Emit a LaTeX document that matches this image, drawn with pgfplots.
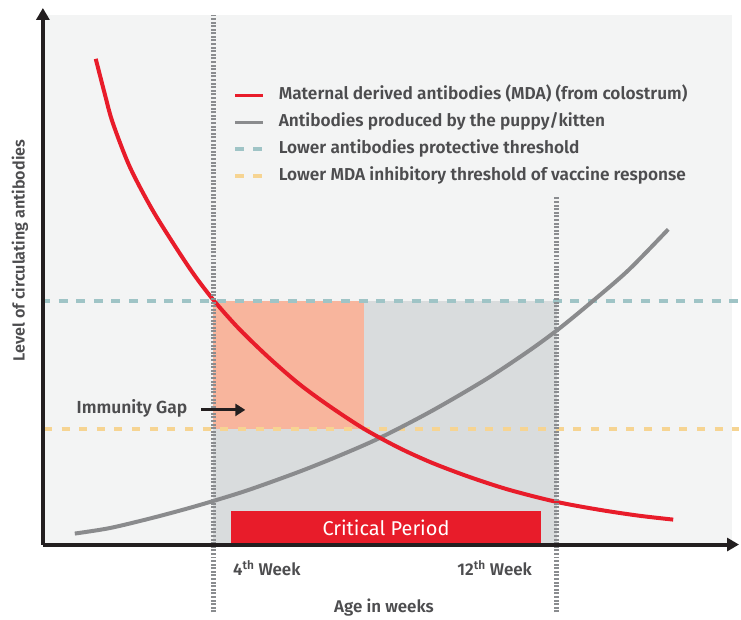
\documentclass[border=0pt]{standalone}
\usepackage{fontspec}
\setmainfont{Fira Sans}[BoldFont={* SemiBold}]
\usepackage{pgfplots}
\pgfplotsset{compat=1.18}
\usetikzlibrary{arrows.meta}
\definecolor{bgc}{HTML}{F3F4F4}
\definecolor{rectgray}{HTML}{D9DCDD}
\definecolor{salmon}{HTML}{F8B59D}
\definecolor{tealc}{HTML}{9FC4C6}
\definecolor{orangec}{HTML}{F6D492}
\definecolor{redc}{HTML}{E81C2A}
\definecolor{curvegray}{HTML}{8A8B8D}
\definecolor{dotgray}{HTML}{8A8C8F}
\definecolor{textgray}{HTML}{4D4D4F}
\definecolor{axisblack}{HTML}{231F20}
\newcommand{\lfont}{\fontsize{17bp}{20bp}\selectfont\bfseries}
\begin{document}
\begin{tikzpicture}
\begin{axis}[
  width=698bp, height=538bp, scale only axis,
  xmin=43, xmax=741, ymin=68, ymax=606,
  axis x line*=bottom, axis y line*=left,
  axis line style={line width=4bp, color=axisblack, -{Triangle[length=12bp,width=13bp]}},
  axis on top,
  clip=false,
  xtick={267.5,496},
  xticklabels={4\textsuperscript{th} Week, 12\textsuperscript{th} Week},
  ytick=\empty,
  major tick length=0pt,
  xticklabel style={font=\lfont, text=textgray, anchor=base, yshift=-31bp},
  xlabel={Age in weeks},
  ylabel={Level of circulating antibodies},
  label style={font=\lfont, text=textgray},
  xlabel style={at={(axis description cs:0.490,-0.117)}, anchor=center},
  ylabel style={at={(axis description cs:-0.033,0.548)}, anchor=center, font=\fontsize{16.2bp}{19bp}\selectfont\bfseries},
  legend style={at={(axis cs:234,526.5)}, anchor=north west, draw=none, fill=none,
    inner sep=0pt, outer sep=0pt, font=\fontsize{17.3bp}{20bp}\selectfont\bfseries, text=textgray,
    row sep=10.4bp, column sep=14.5bp,
    nodes={inner sep=0pt, text height=12.5bp, text depth=4bp}},
  legend cell align=left,
  legend image code/.code={\draw[#1] (0bp,0bp) -- (27.5bp,0bp);},
]
% bounding box helper
\addplot[draw=none, forget plot] coordinates {(0,0) (741,614)};
% panel background
\addplot[fill=bgc, draw=none, forget plot] coordinates {(43,68) (734,68) (734,599) (43,599)} -- cycle;
% critical window regions
\addplot[fill=rectgray, draw=none, forget plot] coordinates {(214,68) (558,68) (558,312) (214,312)} -- cycle;
\addplot[fill=salmon, draw=none, forget plot] coordinates {(214,184) (365,184) (365,312) (214,312)} -- cycle;
% thresholds
\addplot[tealc, line width=4bp, dash pattern=on 9bp off 8.7bp, forget plot] coordinates {(41,312) (741,312)};
\addplot[orangec, line width=4bp, dash pattern=on 8bp off 9.7bp, forget plot] coordinates {(44,184) (741,184)};
% critical period bar
\addplot[fill=redc, draw=none, forget plot] coordinates {(232,70) (542,70) (542,102) (232,102)} -- cycle;
% antibodies produced by the puppy/kitten
\addplot[curvegray, line width=4bp, smooth, forget plot] coordinates {
 (75,79) (110,84.5) (150,94) (185,103.3) (215,112) (250,123) (300,141) (340,157)
 (381,175) (433,202) (487,233.5) (530,262) (560,284) (593,311) (630,343) (670,384)};
% maternal derived antibodies
\addplot[redc, line width=4bp, smooth, forget plot] coordinates {
 (96,555) (105,520) (113,491) (130,447) (152,405) (175,368) (195,338) (215,312)
 (240,284) (270,255) (300,229) (330,207) (365,184) (400,165) (433,150) (470,136)
 (510,123) (557,111) (600,103) (640,97) (675,93)};
% dotted week markers
\addplot[dotgray, line width=4.2bp, dash pattern=on 2bp off 1.6bp, forget plot] coordinates {(214,0) (214,599)};
\addplot[dotgray, line width=4.2bp, dash pattern=on 2bp off 1.6bp, forget plot] coordinates {(558,0) (558,417)};
% immunity gap arrow
\addplot[axisblack, line width=3bp, -{Triangle[length=10bp,width=12bp]}, forget plot] coordinates {(202,203) (246,203)};
% legend
\addlegendimage{redc, line width=3.5bp}
\addlegendentry{Maternal derived antibodies (MDA) (from colostrum)}
\addlegendimage{curvegray, line width=3.5bp}
\addlegendentry{Antibodies produced by the puppy/kitten}
\addlegendimage{tealc, line width=3.5bp, dash pattern=on 9bp off 9bp}
\addlegendentry{Lower antibodies protective threshold}
\addlegendimage{orangec, line width=3.5bp, dash pattern=on 9bp off 9bp}
\addlegendentry{Lower MDA inhibitory threshold of vaccine response}
% texts
\node[font=\fontsize{17.5bp}{20bp}\selectfont\bfseries, text=textgray, anchor=base east, inner sep=0pt] at (axis cs:188,199) {Immunity Gap};
\node[font=\fontsize{20bp}{24bp}\selectfont, text=white, anchor=base, inner sep=0pt] at (axis cs:387,77) {Critical Period};
\end{axis}
\end{tikzpicture}
\end{document}
